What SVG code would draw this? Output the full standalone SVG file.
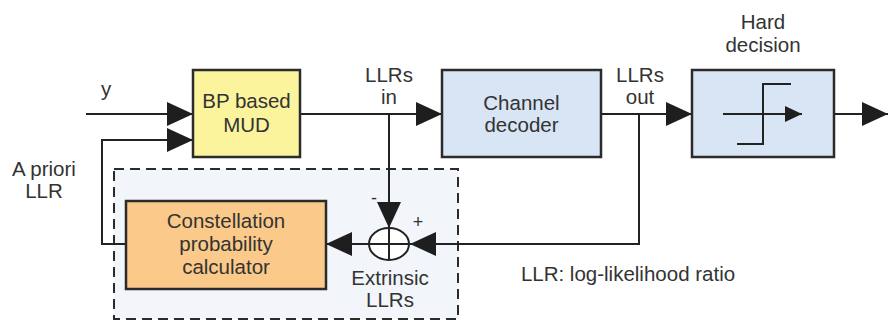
<svg xmlns="http://www.w3.org/2000/svg" width="888" height="320" viewBox="0 0 888 320">
<defs>
<style>
.t{font-family:"Liberation Sans",Arial,sans-serif;font-size:20.5px;fill:#333;text-anchor:middle}
.box{stroke:#2b2b2b;stroke-width:2.5}
.ln{stroke:#222;stroke-width:2;fill:none}
</style>
<marker id="ah" viewBox="0 0 26 24" refX="26" refY="12" markerWidth="26" markerHeight="24" markerUnits="userSpaceOnUse" orient="auto">
<path d="M0,0 L26,12 L0,24 Z" fill="#1e1e1e"/>
</marker>
<marker id="ahs" viewBox="0 0 17 16" refX="17" refY="8" markerWidth="17" markerHeight="16" markerUnits="userSpaceOnUse" orient="auto">
<path d="M0,0 L17,8 L0,16 Z" fill="#1e1e1e"/>
</marker>
</defs>
<rect width="888" height="320" fill="#fff"/>
<g id="dashed-region">
<rect x="114" y="169" width="344" height="150" fill="#f2f5fa" stroke="#2b2b2b" stroke-width="2" stroke-dasharray="10,6"/>
</g>
<g id="connectors">
<line class="ln" x1="86" y1="114" x2="193" y2="114" marker-end="url(#ah)"/>
<polyline class="ln" points="126,244 102,244 102,140 193,140" marker-end="url(#ah)"/>
<line class="ln" x1="300" y1="114" x2="442" y2="114" marker-end="url(#ah)"/>
<line class="ln" x1="601" y1="114" x2="692" y2="114" marker-end="url(#ah)"/>
<line class="ln" x1="834" y1="114" x2="888" y2="114" marker-end="url(#ah)"/>
<line class="ln" x1="389" y1="114" x2="389" y2="228" marker-end="url(#ah)"/>
<polyline class="ln" points="639,114 639,244 410,244" marker-end="url(#ah)"/>
<line class="ln" x1="369" y1="244" x2="326" y2="244" marker-end="url(#ah)"/>
</g>
<g id="sum">
<ellipse cx="389" cy="244" rx="20" ry="16" fill="#fff" stroke="#222" stroke-width="2"/>
<line class="ln" x1="369" y1="244" x2="409" y2="244"/>
<line class="ln" x1="389" y1="228" x2="389" y2="260"/>
<text class="t" x="374" y="204" style="font-size:18px">-</text>
<text class="t" x="418" y="228" style="font-size:18px">+</text>
<text class="t" x="390" y="285">Extrinsic</text>
<text class="t" x="390" y="307">LLRs</text>
</g>
<g id="bp-mud">
<rect class="box" x="193" y="70" width="107" height="87" fill="#fbf49c"/>
<text class="t" x="246.5" y="108">BP based</text>
<text class="t" x="246.5" y="132">MUD</text>
</g>
<g id="channel-decoder">
<rect class="box" x="442" y="70" width="159" height="87" fill="#d8e5f5"/>
<text class="t" x="521.5" y="110">Channel</text>
<text class="t" x="521.5" y="132">decoder</text>
</g>
<g id="hard-decision">
<rect class="box" x="692" y="70" width="142" height="87" fill="#d8e5f5"/>
<polyline class="ln" points="737,144 763,144 763,84 791,84"/>
<line class="ln" x1="723" y1="114" x2="802" y2="114" marker-end="url(#ahs)"/>
<text class="t" x="763" y="29">Hard</text>
<text class="t" x="763" y="52">decision</text>
</g>
<g id="constellation">
<rect class="box" x="126" y="201" width="200" height="88" fill="#fbc98a"/>
<text class="t" x="226" y="228">Constellation</text>
<text class="t" x="226" y="251">probability</text>
<text class="t" x="226" y="274">calculator</text>
</g>
<g id="labels">
<text class="t" x="106" y="96">y</text>
<text class="t" x="44" y="176">A priori</text>
<text class="t" x="44" y="198">LLR</text>
<text class="t" x="389" y="82">LLRs</text>
<text class="t" x="389" y="104">in</text>
<text class="t" x="640" y="82">LLRs</text>
<text class="t" x="640" y="104">out</text>
<text class="t" x="628" y="281">LLR: log-likelihood ratio</text>
</g>
</svg>
